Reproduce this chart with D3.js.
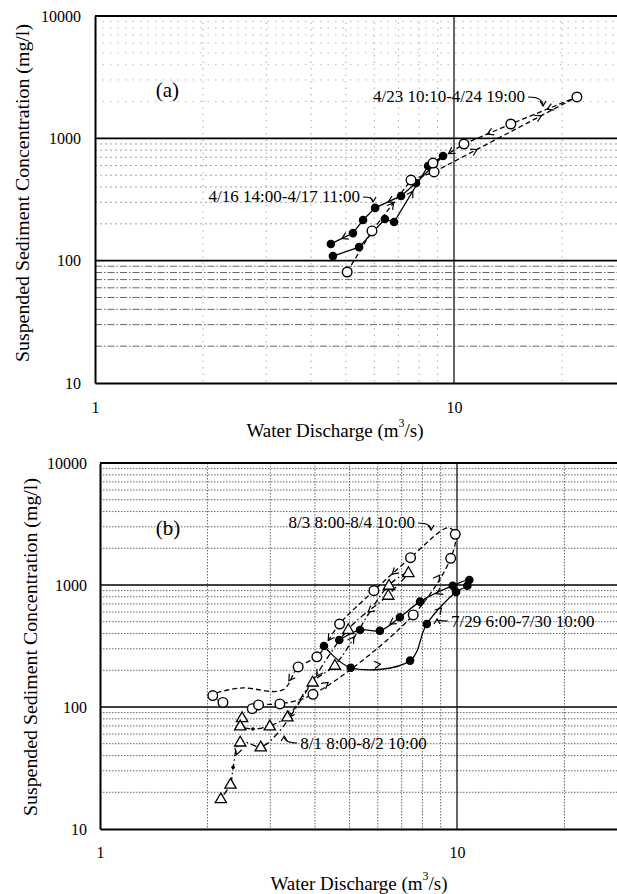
<!DOCTYPE html>
<html lang="en">
<head>
<meta charset="UTF-8">
<title>Sediment rating loops</title>
<script src="https://cdn.jsdelivr.net/npm/d3@7"></script>
<style>
  body { margin: 0; background: #fff; }
  text { font-family: "Liberation Serif", "Times New Roman", serif; fill: #000; }
</style>
</head>
<body>
<div id="chart"></div>
<script>
// ---- tick values ----
const xTicks = [1, 10];
const yTicks = [10, 100, 1000, 10000];
const xMinor = [2, 3, 4, 5, 6, 7, 8, 9, 20, 30];
const yMinor = [20, 30, 40, 50, 60, 70, 80, 90,
                200, 300, 400, 500, 600, 700, 800, 900,
                2000, 3000, 4000, 5000, 6000, 7000, 8000, 9000];
const xMajor = [10];
const yMajor = [100, 1000];

// ---- panel (a) : April events ----
const a_apr16_Q = [4.60, 5.44, 6.42, 6.81, 8.47, 9.32, 7.84, 7.12, 6.03, 5.58, 5.23, 4.54];
const a_apr16_C = [109, 129, 219, 207, 594, 717, 431, 338, 270, 215, 168, 137];

const a_apr23_Q = [5.04, 5.91, 7.59, 8.80, 22.0, 14.4, 10.66, 8.74];
const a_apr23_C = [80.8, 175, 456, 531, 2178, 1310, 899, 628];

// ---- panel (b) : July / August events ----
const b_jul29_Q = [4.24, 5.04, 7.39, 8.23, 9.94, 10.69, 10.83, 9.73, 7.88, 6.92, 6.08, 5.35, 4.68];
const b_jul29_C = [316, 210, 240, 479, 876, 987, 1099, 987, 730, 544, 422, 428, 354];

const b_aug1_Q = [2.50, 2.47, 2.68, 2.99, 3.35, 3.94, 4.55, 6.45, 7.31, 6.42, 4.96, 3.15, 2.82, 2.47, 2.36, 2.32, 2.18];
const b_aug1_C = [82.3, 70.3, 66.0, 70.3, 83.3, 161, 221, 1000, 1271, 828, 434, 61.2, 47.3, 51.9, 32.0, 23.4, 17.8];
const b_aug1_sampled = [0, 1, 3, 4, 5, 6, 7, 8, 9, 10, 12, 13, 15, 16];
const b_aug1_dots = [2, 14];

const b_aug3_Q = [2.67, 2.78, 3.19, 3.95, 7.54, 9.60, 9.89, 9.45, 7.41, 5.85, 4.69, 4.05, 3.59, 3.25, 2.47, 2.07, 2.21];
const b_aug3_C = [96.9, 104, 106, 127, 568, 1655, 2604, 2949, 1674, 898, 479, 258, 213, 138, 143, 124, 109];
const b_aug3_sampled = [0, 1, 2, 3, 4, 5, 6, 8, 9, 10, 11, 12, 15, 16];

const W = 617, H = 894;
const svg = d3.select('#chart').append('svg').attr('width', W).attr('height', H);

function allIdx(arr) { return arr.map((d, i) => i); }

const panels = [
  {
    left: 95, top: 16, bottom: 383, decade: 359,
    yPad: 14, xPad: 19, curve: d3.curveLinear,
    hStyle: d => d < 100 ? ['#555', '7,2,1.5,2', 0.9] : d < 1000 ? ['#888', '2,3', 0.8] : ['#aaa', '1.5,6', 0.8],
    vStyle: ['#999', '1.5,5', 0.8],
    tag: '(a)', tagQ: 1.59, tagC: 2485,
    xTitle: [335, 430], yTitle: [22, 193],
    series: [
      { Q: a_apr16_Q, C: a_apr16_C, sym: 'filled', dash: null, sampled: allIdx(a_apr16_Q), dots: [],
        arrows: [[3, 0.55], [7, 0.5], [10, 0.5]] },
      { Q: a_apr23_Q, C: a_apr23_C, sym: 'open', dash: '5,3', sampled: allIdx(a_apr23_Q), dots: [],
        arrows: [[1, 0.55], [3, 0.3], [3, 0.75], [4, 0.45], [5, 0.5], [6, 0.5]] }
    ],
    notes: [
      { text: '4/23 10:10-4/24 19:00', q: 17.7, c: 1838, dx: -18, dy: -9, anchor: 'end' },
      { text: '4/16 14:00-4/17 11:00', q: 5.95, c: 302, dx: -13, dy: -5, anchor: 'end' }
    ]
  },
  {
    left: 100, top: 463, bottom: 829, decade: 357,
    yPad: 13, xPad: 18, curve: d3.curveCatmullRom.alpha(0.5),
    hStyle: d => ['#444', '1.5,1.5', 0.8],
    vStyle: ['#444', '1.5,1.5', 0.8],
    tag: '(b)', tagQ: 1.55, tagC: 2931,
    xTitle: [359, 883], yTitle: [30, 647],
    series: [
      { Q: b_jul29_Q, C: b_jul29_C, sym: 'filled', dash: null, sampled: allIdx(b_jul29_Q), dots: [],
        arrows: [[1, 0.5], [3, 0.5], [7, 0.5], [9, 0.5]] },
      { Q: b_aug1_Q, C: b_aug1_C, sym: 'tri', dash: '6,3,1.5,3', sampled: b_aug1_sampled, dots: b_aug1_dots,
        arrows: [[6, 0.35], [9, 0.5], [10, 0.45], [10, 0.85], [13, 0.5]] },
      { Q: b_aug3_Q, C: b_aug3_C, sym: 'open', dash: '5,3', sampled: b_aug3_sampled, dots: [],
        arrows: [[3, 0.15], [4, 0.7], [8, 0.5], [10, 0.5], [12, 0.6]] }
    ],
    notes: [
      { text: '8/3 8:00-8/4 10:00', q: 8.46, c: 2824, dx: -16, dy: -7, anchor: 'end' },
      { text: '7/29 6:00-7/30 10:00', q: 8.79, c: 526, dx: 14, dy: 2, anchor: 'start' },
      { text: '8/1 8:00-8/2 10:00', q: 3.28, c: 57.8, dx: 16, dy: 7, anchor: 'start' }
    ]
  }
];

function chevron(g, px, py, ang, size) {
  g.append('path')
    .attr('d', `M${-size},${-size * 0.6} L0,0 L${-size},${size * 0.6}`)
    .attr('transform', `translate(${px},${py}) rotate(${ang * 180 / Math.PI})`)
    .attr('fill', 'none').attr('stroke', '#000').attr('stroke-width', 1.2);
}

function drawPanel(p) {
  const x = d3.scaleLog().domain([1, 100]).range([p.left, p.left + 2 * p.decade]);
  const y = d3.scaleLog().domain([10, 10000]).range([p.bottom, p.top]);
  const g = svg.append('g');

  // minor grid
  g.selectAll('line.hmin').data(yMinor).join('line').attr('class', 'hmin')
    .attr('x1', p.left).attr('x2', W)
    .attr('y1', d => y(d)).attr('y2', d => y(d))
    .attr('stroke', d => p.hStyle(d)[0])
    .attr('stroke-dasharray', d => p.hStyle(d)[1])
    .attr('stroke-width', d => p.hStyle(d)[2]);
  g.selectAll('line.vmin').data(xMinor).join('line').attr('class', 'vmin')
    .attr('x1', d => x(d)).attr('x2', d => x(d))
    .attr('y1', p.top).attr('y2', p.bottom)
    .attr('stroke', p.vStyle[0]).attr('stroke-dasharray', p.vStyle[1]).attr('stroke-width', p.vStyle[2]);

  // major grid
  g.selectAll('line.hmaj').data(yMajor).join('line').attr('class', 'hmaj')
    .attr('x1', p.left).attr('x2', W)
    .attr('y1', d => y(d)).attr('y2', d => y(d))
    .attr('stroke', '#000').attr('stroke-width', 1.6);
  g.selectAll('line.vmaj').data(xMajor).join('line').attr('class', 'vmaj')
    .attr('x1', d => x(d)).attr('x2', d => x(d))
    .attr('y1', p.top).attr('y2', p.bottom)
    .attr('stroke', '#000').attr('stroke-width', 1.2);

  // frame top
  g.append('line').attr('x1', p.left).attr('x2', W).attr('y1', y(10000)).attr('y2', y(10000))
    .attr('stroke', '#000').attr('stroke-width', 2);

  // axes
  const yAx = g.append('g').attr('transform', `translate(${p.left},0)`)
    .call(d3.axisLeft(y).tickValues(yTicks).tickFormat(d3.format('d')).tickSize(0).tickPadding(p.yPad));
  const xAx = g.append('g').attr('transform', `translate(0,${p.bottom})`)
    .call(d3.axisBottom(x).tickValues(xTicks).tickFormat(d3.format('d')).tickSize(0).tickPadding(p.xPad));
  [yAx, xAx].forEach(ax => {
    ax.attr('font-family', null).attr('font-size', null);
    ax.select('.domain').attr('stroke-width', 2);
    ax.selectAll('text').style('font-size', '16px');
  });

  // series
  const line = d3.line().x(d => x(d[0])).y(d => y(d[1])).curve(p.curve);
  p.series.forEach(s => {
    const pts = d3.zip(s.Q, s.C);
    g.append('path').datum(pts)
      .attr('d', line)
      .attr('fill', 'none').attr('stroke', '#000').attr('stroke-width', 1.3)
      .attr('stroke-dasharray', s.dash);

    // direction arrows
    s.arrows.forEach(([i, t]) => {
      const x0 = x(pts[i][0]), y0 = y(pts[i][1]);
      const x1 = x(pts[i + 1][0]), y1 = y(pts[i + 1][1]);
      chevron(g, x0 + (x1 - x0) * t, y0 + (y1 - y0) * t, Math.atan2(y1 - y0, x1 - x0), 6);
    });

    const samp = s.sampled.map(i => pts[i]);
    if (s.sym === 'tri') {
      g.selectAll(null).data(samp).join('path')
        .attr('d', d3.symbol(d3.symbolTriangle, 55))
        .attr('transform', d => `translate(${x(d[0])},${y(d[1]) + 1})`)
        .attr('fill', '#fff').attr('stroke', '#000').attr('stroke-width', 1.3);
    } else {
      g.selectAll(null).data(samp).join('circle')
        .attr('cx', d => x(d[0])).attr('cy', d => y(d[1]))
        .attr('r', s.sym === 'open' ? 4.8 : 3.6)
        .attr('fill', s.sym === 'open' ? '#fff' : '#000')
        .attr('stroke', '#000').attr('stroke-width', 1.4);
    }
    g.selectAll(null).data(s.dots.map(i => pts[i])).join('circle')
      .attr('cx', d => x(d[0])).attr('cy', d => y(d[1])).attr('r', 1.8).attr('fill', '#000');
  });

  // annotations
  p.notes.forEach(n => {
    const tx = x(n.q), ty = y(n.c);
    const sx = tx + n.dx, sy = ty + n.dy;
    g.append('text').attr('x', sx).attr('y', sy)
      .attr('text-anchor', n.anchor).attr('dominant-baseline', 'central')
      .style('font-size', '17px').text(n.text);
    const ox = n.anchor === 'end' ? sx + 3 : sx - 3;
    const cx = tx, cy = sy;
    g.append('path').attr('d', `M${ox},${sy} Q${cx},${cy} ${tx},${ty}`)
      .attr('fill', 'none').attr('stroke', '#000').attr('stroke-width', 1.1);
    chevron(g, tx, ty, Math.atan2(ty - cy, tx - cx + 0.001), 5);
  });

  g.append('text').attr('x', x(p.tagQ)).attr('y', y(p.tagC))
    .attr('text-anchor', 'middle').attr('dominant-baseline', 'central')
    .style('font-size', '21px').text(p.tag);

  // titles
  const xt = g.append('text').attr('x', p.xTitle[0]).attr('y', p.xTitle[1])
    .attr('text-anchor', 'middle').attr('dominant-baseline', 'central')
    .style('font-size', '19px');
  xt.append('tspan').text('Water Discharge (m');
  xt.append('tspan').attr('dy', -7).style('font-size', '12px').text('3');
  xt.append('tspan').attr('dy', 7).text('/s)');

  g.append('text')
    .attr('transform', `translate(${p.yTitle[0]},${p.yTitle[1]}) rotate(-90)`)
    .attr('text-anchor', 'middle').attr('dominant-baseline', 'central')
    .attr('textLength', 338).attr('lengthAdjust', 'spacingAndGlyphs')
    .style('font-size', '19px')
    .text('Suspended Sediment Concentration (mg/l)');
}

panels.forEach(drawPanel);
</script>
</body>
</html>
